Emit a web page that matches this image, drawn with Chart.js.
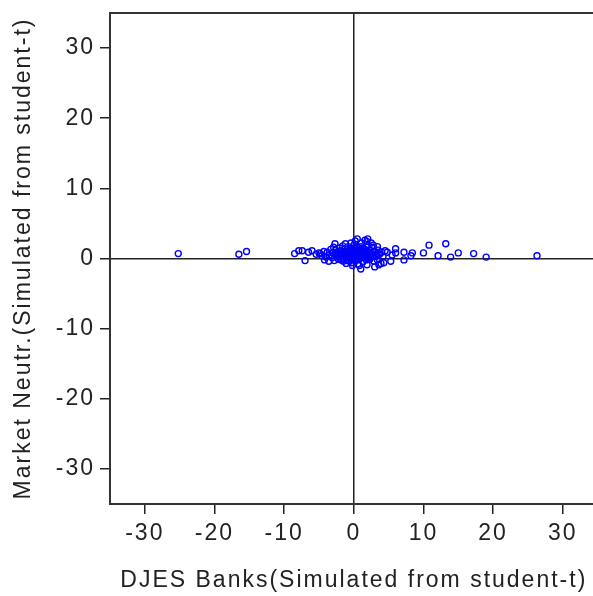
<!DOCTYPE html>
<html>
<head>
<meta charset="utf-8">
<script src="https://cdn.jsdelivr.net/npm/chart.js@4/dist/chart.umd.min.js"></script>
<style>
  html, body { margin: 0; padding: 0; background: #fff; overflow: hidden; }
  #wrap { width: 603px; height: 596px; position: relative; }
</style>
</head>
<body>
<div id="wrap"><canvas id="chart"></canvas></div>
<script>
// DJES Banks (x) vs Market Neutr. (y)
var banksX = [
  -25.2, -16.5, -15.4, -8.5, -7.9, -7.4, -7.0, -6.5, -6.0, -5.4, -5.0, -4.6, -4.3,
  6.0, 6.0, 7.2, 7.2, 8.4, 8.2, 10.0, 10.8, 12.1, 13.2, 13.9, 15.0, 17.2, 19.0, 26.3,
  5.3, 4.3, 3.0, 1.0, 2.0, 0.5, 3.4, -2.7, -1.2, 4.8, 5.5,
  -4.0, -3.8, -3.5, -3.3, -3.1, -3.0, -2.8, -2.6, -2.5, -2.3, -2.2, -2.0, -1.9, -1.8,
  -1.7, -1.5, -1.4, -1.3, -1.2, -1.0, -0.9, -0.8, -0.7, -0.6, -0.5, -0.4, -0.3, -0.2,
  -0.1, 0.0, 0.1, 0.2, 0.3, 0.4, 0.5, 0.6, 0.7, 0.8, 0.9, 1.0, 1.1, 1.2, 1.3, 1.4,
  1.5, 1.6, 1.7, 1.8, 1.9, 2.0, 2.2, 2.3, 2.4, 2.6, 2.7, 2.9, 3.0, 3.2, 3.4, 3.5,
  3.7, 3.9, 4.0, 4.2, 4.5, -3.6, -2.9, -1.6, -0.4, 0.2, 1.6, 2.5, -4.8, -4.2, 0.8,
  -0.2, 1.9, 3.6, -1.1, 2.8, 0.4, -0.6, 1.3, -2.4, 0.9, -1.5, 2.1, -0.3, 0.6, 1.8,
  -2.1, -1.9, -1.6, -1.4, -1.1, -0.9, -0.7, -0.5, -0.3, -0.1, 0.1, 0.3, 0.5, 0.7,
  0.9, 1.1, 1.3, 1.5, 1.7, 1.9, 2.1, 2.3, 2.5, -1.8, -1.3, -0.8, -0.4, 0.0, 0.4,
  0.8, 1.2, 1.6, 2.0, 2.4, -2.6, -3.2, 3.1, 3.3, -1.0, 0.2, 1.0, 1.4, -0.6, 0.6
];
var neutrY = [
  0.7, 0.6, 1.0, 0.7, 1.1, 1.1, -0.3, 0.9, 1.1, 0.6, 0.8, 0.4, 1.0,
  1.4, 0.8, 0.9, -0.2, 0.8, 0.4, 0.8, 1.9, 0.4, 2.1, 0.2, 0.8, 0.7, 0.2, 0.4,
  -0.4, -0.6, -1.2, -1.5, 2.8, 2.8, 1.7, 2.1, 2.1, 0.9, 0.5,
  0.2, 0.9, 0.5, 1.3, 0.1, 0.8, -0.3, 1.2, 0.4, 0.9, -0.1, 1.5, 0.6, 0.2,
  1.0, -0.4, 0.7, 1.4, 0.3, 0.9, -0.2, 1.7, 0.5, 1.1, 0.0, 0.8, -0.6, 1.3,
  0.4, 1.9, 0.7, -0.3, 1.1, 0.2, 1.6, -0.8, 0.6, 1.2, 0.0, 0.9, 2.2, 0.4, -0.5, 1.4,
  0.7, 0.1, 1.0, -0.2, 2.4, 0.5, 1.2, -0.1, 0.8, 1.6, 0.3, -0.4, 1.0, 0.5, -0.2, 1.2,
  0.6, -0.7, 0.9, 0.3, 1.1, -0.4, 1.6, 1.8, 2.2, 2.5, 2.6, 2.2, 0.7, -0.2, -1.0,
  -1.0, -0.9, -0.9, -0.7, 1.9, 0.5, 0.3, 0.6, 0.6, 0.3, 0.5, 0.2, 0.6, 1.0, 0.6,
  0.3, 1.1, 0.0, 0.9, 0.6, 1.3, 0.2, 0.7, 1.0, 0.1, 0.9, 0.4, 1.2, 0.3,
  0.8, 0.5, 1.0, 0.2, 0.6, 1.1, 0.9, 0.4, 0.5, -0.2, 0.2, 0.4, 1.5, 0.3, 0.9,
  0.1, 1.5, 1.3, 1.8, 0.1, 0.7, 0.4, 0.3, 0.7, -0.3, 1.4, 1.7, 0.6, -0.4, -0.1
];
var axisTicks = [-30, -20, -10, 0, 10, 20, 30];

var points = banksX.map(function (x, i) { return { x: x, y: neutrY[i] }; });

var inkColor = '#222';
var textFont = { family: '"Liberation Sans", Arial, sans-serif', size: 23 };

// draws the top/right edges of the box and widens letter spacing like the original
var frame = {
  id: 'frame',
  beforeDraw: function (chart) {
    chart.ctx.letterSpacing = '2px';
  },
  afterDraw: function (chart) {
    var a = chart.chartArea, ctx = chart.ctx;
    ctx.save();
    ctx.strokeStyle = '#333';
    ctx.lineWidth = 2;
    ctx.beginPath();
    ctx.moveTo(a.left, a.top);
    ctx.lineTo(a.right, a.top);
    ctx.lineTo(a.right, a.bottom);
    ctx.stroke();
    ctx.restore();
  }
};

function zeroLine(ctx) {
  return ctx.tick && ctx.tick.value === 0 ? inkColor : 'rgba(0,0,0,0)';
}

function axis(title, fitSize, isX) {
  return {
    type: 'linear',
    min: -35,
    max: 35,
    afterBuildTicks: function (scale) {
      scale.ticks = axisTicks.map(function (v) { return { value: v }; });
    },
    afterFit: function (scale) {
      if (isX) scale.height = fitSize; else scale.width = fitSize;
      scale.paddingTop = 0;
      scale.paddingBottom = 0;
      scale.paddingLeft = 0;
      scale.paddingRight = 0;
    },
    border: { display: true, color: '#333', width: 2 },
    grid: {
      drawOnChartArea: true,
      color: zeroLine,
      lineWidth: 1.5,
      tickColor: inkColor,
      tickLength: 10,
      tickWidth: 1.5
    },
    ticks: {
      color: inkColor,
      font: textFont,
      padding: isX ? 6 : 5,
      maxRotation: 0,
      autoSkip: false
    },
    title: {
      display: true,
      text: title,
      color: inkColor,
      font: textFont,
      padding: isX ? { top: 0, bottom: 2 } : { top: 10, bottom: 0 }
    }
  };
}

new Chart(document.getElementById('chart'), {
  type: 'scatter',
  data: {
    datasets: [{
      data: points,
      pointStyle: 'circle',
      pointRadius: 3,
      pointBorderWidth: 1.4,
      borderColor: '#0000ff',
      backgroundColor: 'rgba(0,0,0,0)'
    }]
  },
  options: {
    responsive: true,
    maintainAspectRatio: false,
    animation: false,
    layout: { padding: { top: 13, right: 3, left: 0, bottom: 0 } },
    plugins: { legend: { display: false }, tooltip: { enabled: false } },
    scales: {
      x: axis('DJES Banks(Simulated from student-t)', 92, true),
      y: axis('Market Neutr.(Simulated from student-t)', 110, false)
    }
  },
  plugins: [frame]
});
</script>
</body>
</html>
